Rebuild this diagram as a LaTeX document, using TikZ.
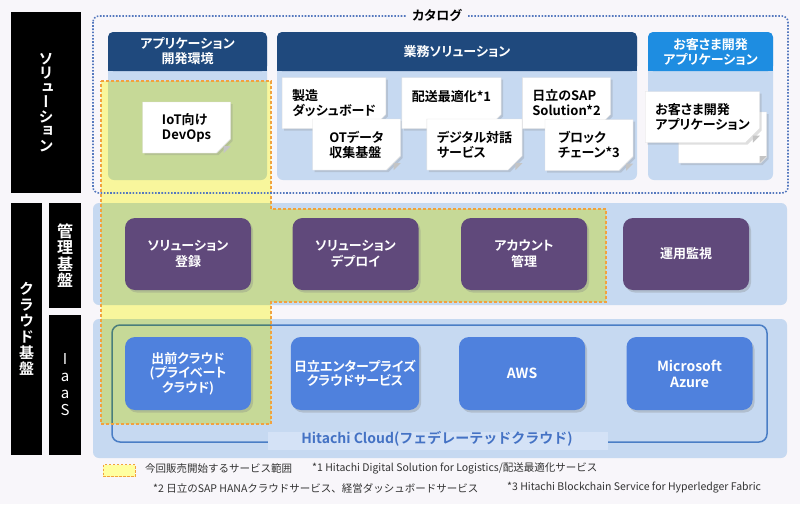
\documentclass[tikz,border=0pt]{standalone}
\usepackage{fontspec}
\setmainfont{Noto Sans CJK JP}[BoldFont={Noto Sans CJK JP Bold},RawFeature=+palt]
\newfontfamily\fwjp{Noto Sans CJK JP}[BoldFont={Noto Sans CJK JP Bold}]
\newfontfamily\vjp{Noto Sans CJK JP Bold}[RawFeature=+vert]
\usetikzlibrary{positioning,shapes.misc,shadows}
\definecolor{bgc}{RGB}{248,246,250}
\definecolor{paneblue}{RGB}{198,217,241}
\definecolor{navy}{RGB}{31,73,125}
\definecolor{skyhead}{RGB}{30,141,225}
\definecolor{mgmtpurple}{RGB}{96,73,123}
\definecolor{iaasblue}{RGB}{79,129,221}
\definecolor{cloudline}{RGB}{74,126,197}
\definecolor{cloudtext}{RGB}{68,114,196}
\definecolor{striplight}{RGB}{212,226,246}
\definecolor{dotblue}{RGB}{84,120,190}
\definecolor{hiorange}{RGB}{242,162,62}
\definecolor{hiyellow}{RGB}{255,255,160}
\definecolor{foldgray}{RGB}{196,196,196}
\tikzstyle{bar}=[fill=black,text=white,align=center,inner sep=0pt]
\tikzstyle{head}=[text=white,rounded corners=5pt,minimum height=39,inner sep=0pt,align=center,font=\bfseries\fontsize{13}{15}\selectfont]
\tikzstyle{card}=[chamfered rectangle,chamfered rectangle corners=south east,chamfered rectangle xsep=7pt,chamfered rectangle ysep=7pt,fill=white,draw=black!12,minimum width=88,minimum height=51,inner sep=3pt,align=left,font=\bfseries\fontsize{13}{15}\selectfont,drop shadow={shadow xshift=2pt,shadow yshift=-2pt,opacity=0.25}]
\tikzstyle{mgmt}=[fill=mgmtpurple,text=white,rounded corners=10pt,minimum width=126,minimum height=72,align=center,font=\bfseries\fontsize{13}{16}\selectfont,drop shadow={shadow xshift=2pt,shadow yshift=-2.5pt,opacity=0.3}]
\tikzstyle{iaas}=[fill=iaasblue,text=white,rounded corners=10pt,minimum width=126,minimum height=73,align=center,font=\bfseries\fontsize{13}{14.5}\selectfont,drop shadow={shadow xshift=2pt,shadow yshift=-2.5pt,opacity=0.3}]
\tikzstyle{legtext}=[anchor=west,inner sep=0pt,text=black!80,font=\fwjp\fontsize{10.5}{12}\selectfont]
\newcommand{\cardfold}[1]{%
  \path (#1.east |- #1.south) coordinate (#1c);
  \fill[foldgray] ([xshift=-7pt]#1c) -- ([yshift=7pt]#1c) -- ([xshift=-7pt,yshift=7pt]#1c) -- cycle;
}

\begin{document}
\begin{tikzpicture}[x=1pt,y=-1pt]

  % canvas
  \fill[bgc] (0,0) rectangle (800,504);
  \useasboundingbox (0,0) rectangle (800,504);

  % side labels
  \node[bar,minimum width=70,minimum height=181,font=\vjp\fontsize{15}{14.5}\selectfont] (solbar) at (46,102.5) {ソ\\リ\\ュ\\ー\\シ\\ョ\\ン};
  \node[bar,minimum width=31,minimum height=252,font=\vjp\fontsize{15}{16}\selectfont] (cloudbar) at (26.5,329) {ク\\ラ\\ウ\\ド\\基\\盤};
  \node[bar,minimum width=32,minimum height=105,font=\vjp\fontsize{16}{16.5}\selectfont] (mgmtbar) at (65,255.5) {管\\理\\基\\盤};
  \node[bar,minimum width=32,minimum height=140,font=\fwjp\fontsize{15}{17}\selectfont] (iaasbar) at (65,385) {I\\a\\a\\S};

  % catalog columns
  \foreach \xa/\xb in {108/267,277/637,648/773} {
    \fill[paneblue,rounded corners=6pt] (\xa,32) rectangle (\xb,180);
  }
  \fill[navy] (108,62) rectangle (267,71);
  \node[head,fill=navy,minimum width=159] (appdev) at (187.5,51.5) {アプリケーション\\開発環境};
  \fill[navy] (277,62) rectangle (637,71);
  \node[head,fill=navy,minimum width=360] (biz) at (457,51.5) {業務ソリューション};
  \fill[skyhead] (648,62) rectangle (773,71);
  \node[head,fill=skyhead,minimum width=125] (custapp) at (710.5,51.5) {お客さま開発\\アプリケーション};

  % platform panels
  \fill[paneblue,rounded corners=6pt] (93,203) rectangle (787,305);
  \fill[paneblue,rounded corners=6pt] (93,319) rectangle (787,458);

  % Hitachi Cloud frame
  \draw[cloudline,line width=1.5pt,rounded corners=8pt] (112,325) rectangle (767,442);
  \fill[striplight] (268,432) rectangle (608,450);
  \node[inner sep=0pt,text=cloudtext,font=\fwjp\bfseries\fontsize{14}{14}\selectfont] (hcloud) at (437,439) {Hitachi Cloud(フェデレーテッドクラウド)};

  % scope of this release
  \fill[hiyellow,blend mode=multiply] (101,81) -- (271,81) -- (271,209) -- (606,209) -- (606,302) -- (271,302) -- (271,424) -- (101,424) -- cycle;

  % catalog cards
  \node[card] (iot) at (186.5,127.5) {IoT向け\\DevOps}; \cardfold{iot}
  \node[card] (mfg) at (334,103) {製造\\ダッシュボード}; \cardfold{mfg}
  \node[card] (otdata) at (356.5,144.5) {OTデータ\\収集基盤}; \cardfold{otdata}
  \node[card] (delivery) at (451.5,103) {配送最適化*1\\~}; \cardfold{delivery}
  \node[card] (digital) at (474.5,144.5) {デジタル対話\\サービス}; \cardfold{digital}
  \node[card] (sap) at (566.5,103) {日立のSAP\\Solution*2}; \cardfold{sap}
  \node[card] (chain) at (589,145) {ブロック\\チェーン*3}; \cardfold{chain}
  \node[card] (custback) at (722.5,137.5) {}; \cardfold{custback}
  \node[card] (custfront) at (702.5,117) {お客さま開発\\アプリケーション}; \cardfold{custfront}

  % management
  \node[mgmt] (regist) at (188,254) {ソリューション\\登録};
  \node[mgmt] (deploy) at (355.5,254) {ソリューション\\デプロイ};
  \node[mgmt] (account) at (524,254) {アカウント\\管理};
  \node[mgmt] (monitor) at (686,254) {運用監視};

  % IaaS
  \node[iaas] (demae) at (188,373.5) {出前クラウド\\(プライベート\\クラウド)};
  \node[iaas] (hec) at (355,373.5) {日立エンタープライズ\\クラウドサービス};
  \node[iaas,font=\bfseries\fontsize{14}{16}\selectfont] (aws) at (522,373.5) {AWS};
  \node[iaas,font=\bfseries\fontsize{14}{16}\selectfont] (azure) at (689.5,373.5) {Microsoft\\Azure};

  % outline of scope
  \draw[hiorange,line width=1.2pt,dash pattern=on 3pt off 2pt] (101,81) -- (271,81) -- (271,209) -- (606,209) -- (606,302) -- (271,302) -- (271,424) -- (101,424) -- cycle;

  % catalog frame
  \draw[dotblue,line width=1.6pt,dash pattern=on 1.6pt off 1.6pt,rounded corners=6pt] (93,16) rectangle (788,193);
  \node[fill=bgc,inner xsep=6pt,inner ysep=1pt,font=\bfseries\fontsize{13}{13}\selectfont] (catalog) at (437,15) {カタログ};

  % legend
  \node[fill=hiyellow,draw=hiorange,line width=1pt,dash pattern=on 2.5pt off 1.5pt,minimum width=32,minimum height=12,inner sep=0pt] (key) at (119,470.5) {};
  \node[legtext] (scope) at (145,468) {今回販売開始するサービス範囲};
  \node[legtext] (note1) at (312,468) {*1 Hitachi Digital Solution for Logistics/配送最適化サービス};
  \node[legtext] (note2) at (153,488) {*2 日立のSAP HANAクラウドサービス、経営ダッシュボードサービス};
  \node[legtext] (note3) at (507,488) {*3 Hitachi Blockchain Service for Hyperledger Fabric};

\end{tikzpicture}
\end{document}
